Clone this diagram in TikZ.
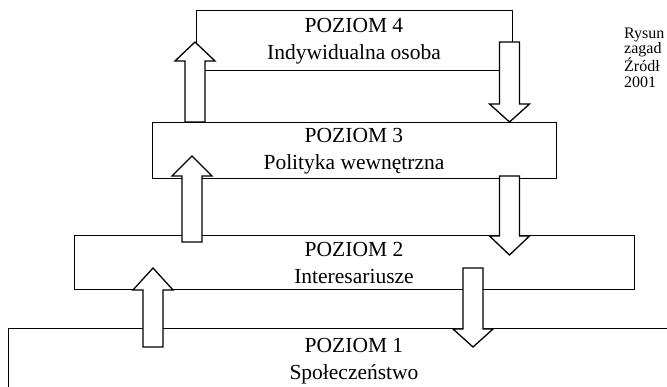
\documentclass[tikz,border=0pt]{standalone}
\usepackage{fontspec}
\setmainfont{Liberation Serif}
\newcommand\blockarr[4]{%
  \draw[barrow] ({#1-10},{#4}) -- ({#1-10},{#3}) -- ({#1-20},{#3}) -- ({#1},{#2})
    -- ({#1+20},{#3}) -- ({#1+10},{#3}) -- ({#1+10},{#4}) -- cycle;}
\begin{document}
\begin{tikzpicture}[x=1pt,y=-1pt,
  lvl/.style={draw=black,line width=1pt},
  barrow/.style={draw=black,fill=white,line width=1.3pt,line join=miter},
  lbl/.style={align=center,inner sep=0pt,font=\fontsize{21.5}{27}\selectfont},
  note/.style={align=left,anchor=north west,inner sep=0pt,font=\fontsize{16}{15.5}\selectfont}]
\useasboundingbox (0,0) rectangle (667,387);
\clip (0,0) rectangle (667,387);
\draw[lvl] (196,11) rectangle (512,71);
\draw[lvl] (152,123) rectangle (556,179);
\draw[lvl] (74,236) rectangle (634,290);
\draw[lvl] (8,329) rectangle (700,420);
\node[lbl] (l4) at (354,41) {POZIOM 4\\Indywidualna osoba};
\node[lbl] (l3) at (354,151) {POZIOM 3\\Polityka wewnętrzna};
\node[lbl] (l2) at (354,263) {POZIOM 2\\Interesariusze};
\node[lbl] (l1) at (354,361.5) {POZIOM 1\\Społeczeństwo};
\blockarr{195}{42}{61}{122}
\blockarr{192}{156}{176}{242}
\blockarr{153}{268}{290}{347}
\blockarr{509.5}{122}{104}{42}
\blockarr{509.5}{255}{236}{176}
\blockarr{473}{347}{329}{268}
\node[note] (nt) at (624,27.5) {Rysun\\zagad\\Źródł\\2001};
\end{tikzpicture}
\end{document}
